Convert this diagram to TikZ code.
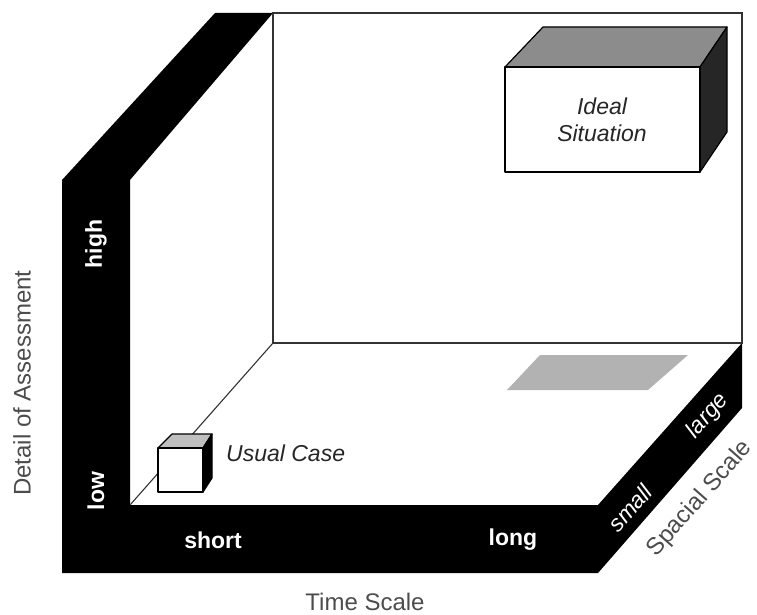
\documentclass[tikz,border=0pt]{standalone}
\usepackage{fontspec}
\setmainfont{Liberation Sans}
\begin{document}
\begin{tikzpicture}[x=1pt,y=-1pt,
  edge/.style={draw=black!80,line width=1.1pt},
  boxline/.style={draw=black,line width=1.2pt,line join=round},
  axislabel/.style={text=black!70,font=\fontsize{24}{26}\selectfont,inner sep=0pt},
  barlabel/.style={text=white,font=\bfseries\fontsize{23}{25}\selectfont,inner sep=0pt},
  barlabelit/.style={text=white,font=\itshape\fontsize{23}{25}\selectfont,inner sep=0pt},
  boxlabel/.style={text=black!85,font=\itshape\fontsize{23}{25}\selectfont,inner sep=0pt,align=center}]
\useasboundingbox (0,0) rectangle (757,615);
% key corners
\coordinate (OL) at (62,180);
\coordinate (OT) at (215,13);
\coordinate (BWtl) at (273,13);
\coordinate (BWtr) at (742,13);
\coordinate (BWbr) at (742,343);
\coordinate (BWbl) at (273,343);
\coordinate (IL) at (130,180);
\coordinate (FL) at (130,505);
\coordinate (FR) at (598,505);
\coordinate (RB) at (742,408);
\coordinate (FRb) at (598,573);
\coordinate (OB) at (62,573);
% black frame
\fill[black] (OL) -- (OT) -- (BWtl) -- (IL) -- (FL) -- (FR) -- (BWbr) -- (RB) -- (FRb) -- (OB) -- cycle;
% back wall and floor edges
\draw[edge] (BWtl) -- (BWtr) -- (BWbr) -- (BWbl) -- cycle;
\draw[edge] (FL) -- (BWbl);
% shadow on floor
\fill[black!30] (540,355) -- (688,355) -- (648,390) -- (507,390) -- cycle;
% Ideal situation box
\coordinate (Ia) at (505,67);
\coordinate (Ib) at (700,67);
\coordinate (Ic) at (700,172);
\coordinate (Id) at (505,172);
\coordinate (Ie) at (543,27);
\coordinate (If) at (727,27);
\coordinate (Ig) at (727,132);
\filldraw[boxline,fill=black!45] (Ia) -- (Ie) -- (If) -- (Ib) -- cycle;
\filldraw[boxline,fill=black!85] (Ib) -- (If) -- (Ig) -- (Ic) -- cycle;
\filldraw[boxline,fill=white] (Ia) rectangle (Ic);
\node[boxlabel] (ideal) at (602,120) {Ideal\\[2pt]Situation};
% Usual case box
\coordinate (Ua) at (158,448);
\coordinate (Ub) at (203,448);
\coordinate (Uc) at (203,492);
\coordinate (Ud) at (158,492);
\coordinate (Ue) at (172,434);
\coordinate (Uf) at (212,434);
\coordinate (Ug) at (212,478);
\filldraw[boxline,fill=black!25] (Ua) -- (Ue) -- (Uf) -- (Ub) -- cycle;
\filldraw[boxline,fill=black] (Ub) -- (Uf) -- (Ug) -- (Uc) -- cycle;
\filldraw[boxline,fill=white] (Ua) rectangle (Uc);
\node[boxlabel,anchor=west] (usual) at (226,453) {Usual Case};
% bar labels
\node[barlabel,rotate=90] (high) at (96,244) {high};
\node[barlabel,rotate=90] (low) at (96,491) {low};
\node[barlabel] (short) at (213,540) {short};
\node[barlabel] (long) at (513,540) {long};
\node[barlabelit,rotate=48.5] (small) at (630,508) {small};
\node[barlabelit,rotate=48.5] (large) at (708,416) {large};
% axis labels
\node[axislabel,rotate=90] (detail) at (22,383) {Detail of Assessment};
\node[axislabel] (time) at (365,602) {Time Scale};
\node[axislabel,rotate=48.5] (spacial) at (700,499) {Spacial Scale};
\end{tikzpicture}
\end{document}
